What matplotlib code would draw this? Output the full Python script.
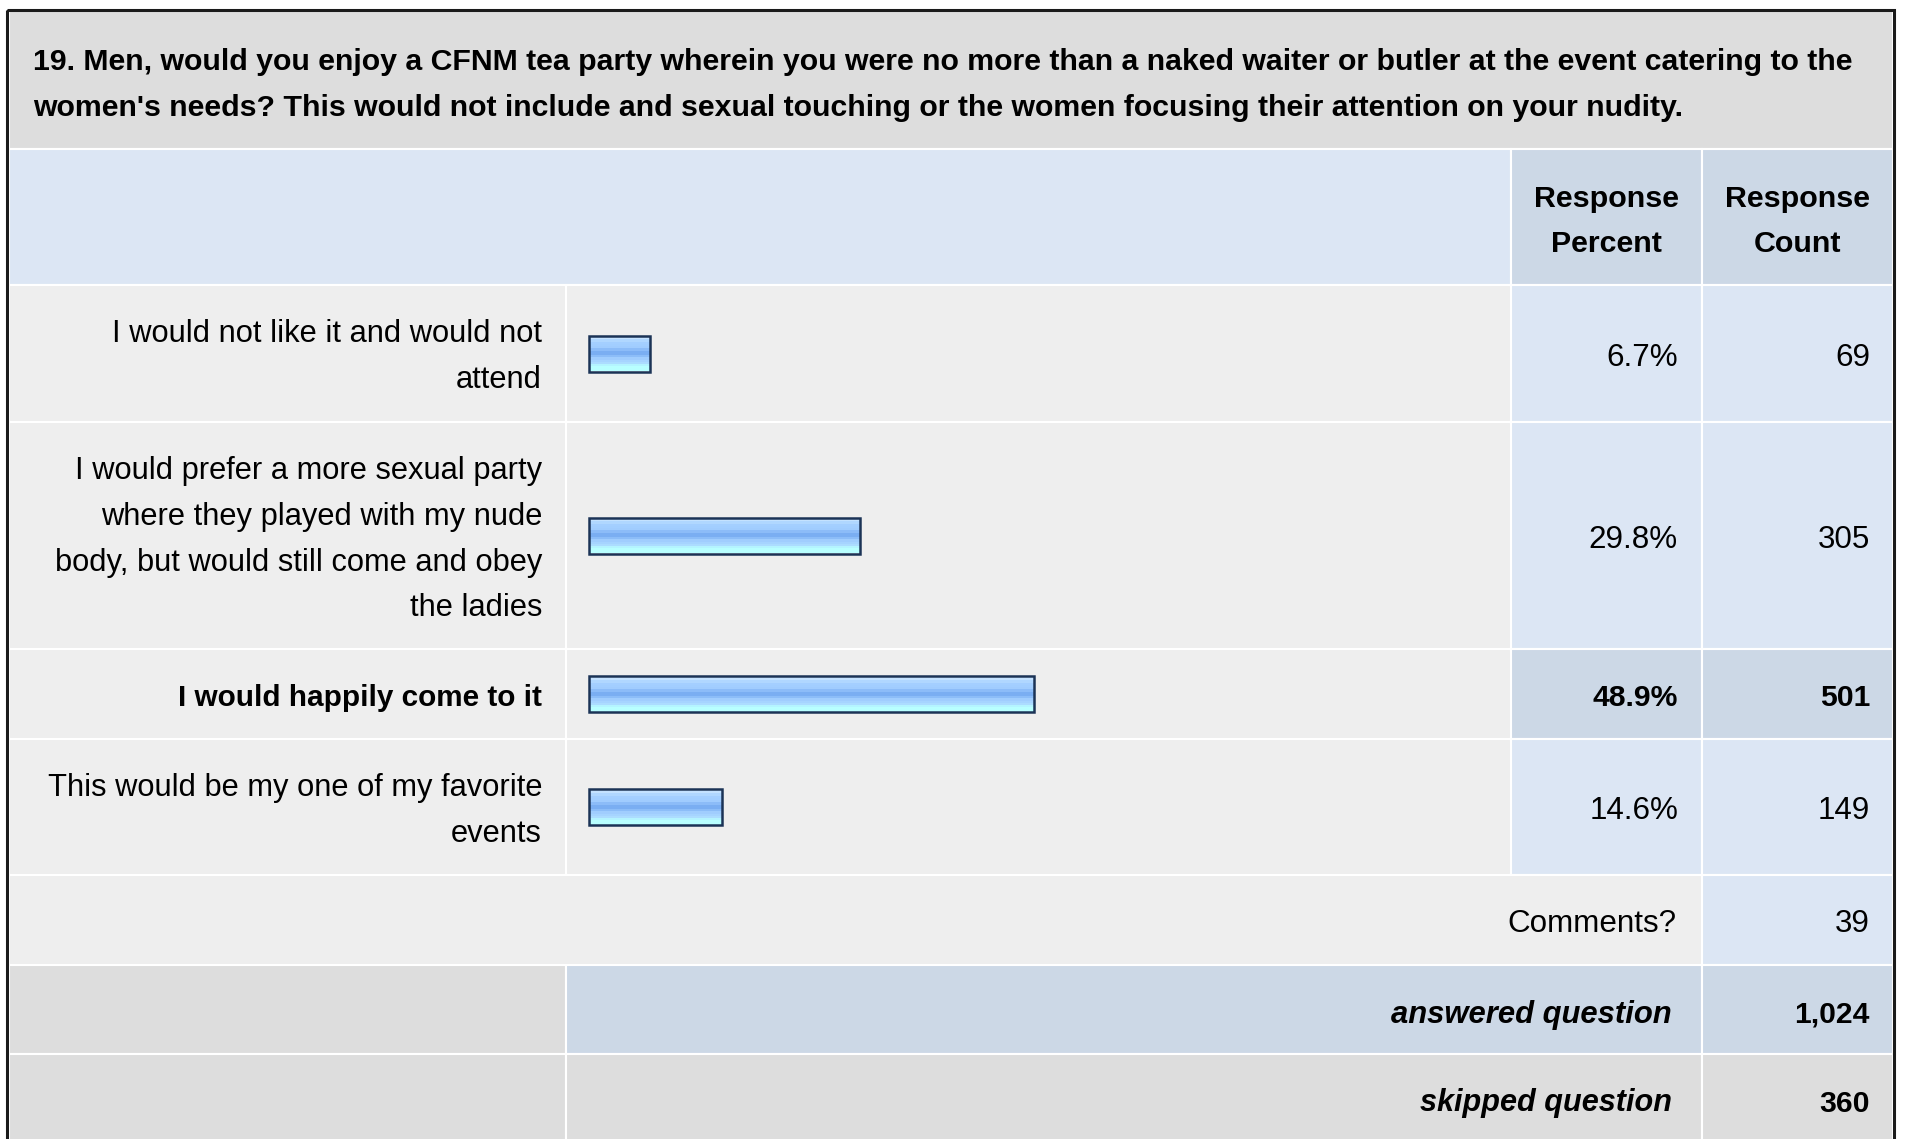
import numpy as np
import matplotlib
matplotlib.use('Agg')
import matplotlib.pyplot as plt
from matplotlib.patches import Rectangle
from matplotlib.colors import to_rgb

# ---------------------------------------------------------------
# data
# ---------------------------------------------------------------
question = ("19. Men, would you enjoy a CFNM tea party wherein you were no more than a naked waiter or butler at the event catering to the\n"
            "women's needs? This would not include and sexual touching or the women focusing their attention on your nudity.")
answers = ["I would not like it and would not\nattend",
           "I would prefer a more sexual party\nwhere they played with my nude\nbody, but would still come and obey\nthe ladies",
           "I would happily come to it",
           "This would be my one of my favorite\nevents"]
percents = [6.7, 29.8, 48.9, 14.6]
counts = [69, 305, 501, 149]
comments_count = 39
answered = 1024
skipped = 360

# ---------------------------------------------------------------
# layout (pixels)
# ---------------------------------------------------------------
W, H = 1907, 1139
col = [9, 566, 1511, 1702, 1893]          # column edges
row_edges = [285, 422, 649, 739, 875]     # answer rows
FS_B = 21.7     # bold text
FS_R = 22.6     # regular text
FS_L = 22.25    # answer labels
DY = 2.5        # text baseline nudge
FONT = 'Liberation Sans'

C_TITLE = '#dddddd'
C_HEAD = '#dce6f4'
C_HEAD2 = '#ccd8e6'
C_ROW = '#eeeeee'
C_VAL = '#dce6f4'

fig = plt.figure(figsize=(W / 100, H / 100), dpi=100)
ax = fig.add_axes([0, 0, 1, 1])
ax.set_xlim(0, W)
ax.set_ylim(H, 0)
ax.axis('off')


def cell(x0, x1, y0, y1, c):
    ax.add_patch(Rectangle((x0, y0), x1 - x0, y1 - y0, fc=c, ec='white', lw=1.5, zorder=1))


def put(x, y, s, ha='left', weight='normal', style='normal', gap=46, fs=None):
    if fs is None:
        fs = FS_B if weight == 'bold' else FS_R
    lines = s.split('\n')
    n = len(lines)
    for i, ln in enumerate(lines):
        ax.text(x, y + DY + (i - (n - 1) / 2) * gap, ln, ha=ha, va='center', fontsize=fs,
                family=FONT, weight=weight, style=style, color='black', zorder=5)


# title
cell(col[0], col[4], 10, 149, C_TITLE)
put(33, 83, question, weight='bold', fs=21.8)

# header
cell(col[0], col[2], 149, 285, C_HEAD)
cell(col[2], col[3], 149, 285, C_HEAD2)
cell(col[3], col[4], 149, 285, C_HEAD2)
put((col[2] + col[3]) / 2, 219, "Response\nPercent", ha='center', weight='bold', gap=45, fs=21.9)
put((col[3] + col[4]) / 2, 219, "Response\nCount", ha='center', weight='bold', gap=45, fs=21.9)

# answer rows
top = int(np.argmax(counts))
centers = []
for i in range(len(answers)):
    y0, y1 = row_edges[i], row_edges[i + 1]
    yc = (y0 + y1) / 2
    centers.append(yc)
    vc = C_HEAD2 if i == top else C_VAL
    wt = 'bold' if i == top else 'normal'
    cell(col[0], col[1], y0, y1, C_ROW)
    cell(col[1], col[2], y0, y1, C_ROW)
    cell(col[2], col[3], y0, y1, vc)
    cell(col[3], col[4], y0, y1, vc)
    put(542, yc + 1.5, answers[i], ha='right', weight=wt, fs=21.4 if i == top else FS_L)
    put(1678, yc + 1.5, f"{percents[i]:.1f}%", ha='right', weight=wt)
    put(1870, yc + 1.5, f"{counts[i]:,}", ha='right', weight=wt)

# comments / answered / skipped
cell(col[0], col[3], 875, 965, C_ROW)
cell(col[3], col[4], 875, 965, C_VAL)
put(1676, 922, "Comments?", ha='right')
put(1870, 922, f"{comments_count:,}", ha='right')

cell(col[0], col[1], 965, 1054, C_TITLE)
cell(col[1], col[3], 965, 1054, C_HEAD2)
cell(col[3], col[4], 965, 1054, C_HEAD2)
put(1672, 1012, "answered question", ha='right', weight='bold', style='italic', fs=22.3)
put(1870, 1012, f"{answered:,}", ha='right', weight='bold', fs=21.6)

cell(col[0], col[1], 1054, 1150, C_TITLE)
cell(col[1], col[3], 1054, 1150, C_TITLE)
cell(col[3], col[4], 1054, 1150, C_TITLE)
put(1672, 1101, "skipped question", ha='right', weight='bold', style='italic', fs=22.1)
put(1870, 1101, f"{skipped:,}", ha='right', weight='bold')

# outer frame
ax.add_patch(Rectangle((7, 10), 1887, 1150, fill=False, ec='#1a1a1a', lw=2.2, zorder=6))

# ---------------------------------------------------------------
# bars: own axes, 0% at x=589 px, ~9.1 px per percent
# ---------------------------------------------------------------
ppp = 9.1
x_zero = 589
bx = fig.add_axes([col[1] / W, 1 - row_edges[-1] / H, (col[2] - col[1]) / W, (row_edges[-1] - row_edges[0]) / H])
bx.axis('off')
bars = bx.barh(centers, percents, height=36, color='none', edgecolor='#1b3356', linewidth=1.8, zorder=3)

stripes = ['#d6ecff', '#c4e2ff', '#b0d7ff', '#a4cfff', '#a2ceff', '#a0ccfe', '#8cbcf8', '#7aaef2',
           '#7aaef2', '#8cbdf8', '#a0cdfe', '#a6d4ff', '#acdcff', '#b4f4ff', '#b8ffff', '#b8ffff']
grad = np.array([to_rgb(c) for c in stripes])[:, None, :]
for b in bars:
    x0, y0 = b.get_xy()
    im = bx.imshow(grad, extent=(x0, x0 + b.get_width(), y0 + b.get_height(), y0),
                   aspect='auto', interpolation='nearest', zorder=2)
    im.set_clip_path(b)

bx.set_xlim(-(x_zero - col[1]) / ppp, (col[2] - x_zero) / ppp)
bx.set_ylim(row_edges[-1], row_edges[0])

fig.savefig('out.png', dpi=100, facecolor='white')
